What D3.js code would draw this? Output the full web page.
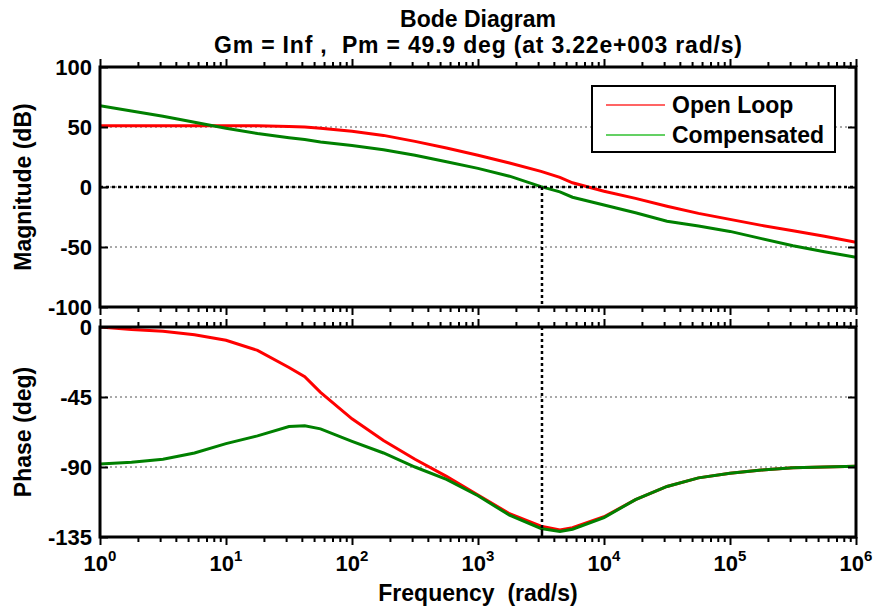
<!DOCTYPE html>
<html>
<head>
<meta charset="utf-8">
<script src="https://cdn.jsdelivr.net/npm/d3@7"></script>
<style>
body { margin: 0; background: #fff; }
text { font-family: "Liberation Sans", Arial, sans-serif; font-weight: bold; fill: #000; white-space: pre; }
</style>
</head>
<body>
<div id="chart"></div>
<script>
// frequency points as powers of ten (rad/s)
var freqExp = [0, 0.25, 0.5, 0.75, 1, 1.25, 1.5, 1.625, 1.75, 2, 2.25, 2.5, 2.75, 3, 3.25, 3.5, 3.65, 3.75, 4, 4.25, 4.5, 4.75, 5, 5.25, 5.5, 5.75, 6];
var magOpen = [51, 51, 51, 51, 51, 51, 50.5, 50, 49, 46.5, 43, 38, 32.5, 26.5, 20, 13, 8, 3.5, -3.5, -9.5, -16, -22, -27, -32, -36.5, -41, -46];
var magComp = [67.8, 63.3, 59, 54, 49, 44.5, 41, 39.5, 37.5, 34.5, 31, 26.5, 21, 15.5, 9, 0.3, -4, -8.5, -15, -21.5, -28.5, -32.5, -37, -43, -49, -54, -58.5];
var phaseOpen = [0, -1.6, -2.7, -5, -8.5, -15, -26, -32, -42, -59, -73, -85, -96, -108, -120, -128, -130.5, -129, -122, -111, -102.5, -97, -94, -92, -90.5, -90, -89.5];
var phaseComp = [-88, -87, -85, -81, -75, -70, -64, -63.5, -65.5, -73.5, -81, -90, -98, -108.5, -121, -129.5, -131.5, -130, -122.5, -111, -102.5, -97, -94, -92, -90.5, -90, -89.5];

var magTicks = [100, 50, 0, -50, -100];
var phaseTicks = [0, -45, -90, -135];
var decadeTicks = [0, 1, 2, 3, 4, 5, 6];
var seriesNames = ["Open Loop", "Compensated"];

var wc = 3220;      // gain crossover (rad/s)
var pm = 49.9;      // phase margin (deg)

var titleLine1 = "Bode Diagram";
var titleLine2 = "Gm = Inf ,  Pm = 49.9 deg (at 3.22e+003 rad/s)";

var red = "#ff0000", green = "#008000";

var width = 875, height = 612;
var left = 100, right = 856;
var magTop = 67, magBottom = 307, phTop = 327, phBottom = 537;

var svg = d3.select("#chart").append("svg")
  .attr("width", width)
  .attr("height", height);
svg.append("rect").attr("width", width).attr("height", height).attr("fill", "#fff");

var freq = freqExp.map(function(e) { return Math.pow(10, e); });

var x = d3.scaleLog().domain([1, 1e6]).range([left, right]);
var yMag = d3.scaleLinear().domain([-100, 100]).range([magBottom, magTop]);
var yPh = d3.scaleLinear().domain([-135, 0]).range([phBottom, phTop]);

// minor ticks 2..9 in every decade
var minorTicks = [];
for (var d = 0; d < 6; d++) {
  for (var k = 2; k < 10; k++) minorTicks.push(k * Math.pow(10, d));
}
var majorTicks = decadeTicks.map(function(e) { return Math.pow(10, e); });

function panel(y, top, bottom, ticks, magData, zeroLine) {
  var g = svg.append("g");

  // horizontal grid (dotted grey)
  g.selectAll(".grid").data(ticks).enter().append("line")
    .attr("x1", left).attr("x2", right)
    .attr("y1", function(t) { return y(t); })
    .attr("y2", function(t) { return y(t); })
    .attr("stroke", "#555").attr("stroke-width", 1)
    .attr("stroke-dasharray", "2,3");

  var clipId = "clip" + top;
  svg.append("clipPath").attr("id", clipId).append("rect")
    .attr("x", left).attr("y", top).attr("width", right - left).attr("height", bottom - top);

  var line = d3.line()
    .x(function(p) { return x(p[0]); })
    .y(function(p) { return y(p[1]); });

  magData.forEach(function(s) {
    g.append("path")
      .attr("clip-path", "url(#" + clipId + ")")
      .attr("d", line(freq.map(function(f, i) { return [f, s.values[i]]; })))
      .attr("fill", "none")
      .attr("stroke", s.color)
      .attr("stroke-width", 3);
  });

  if (zeroLine) {
    g.append("line")
      .attr("x1", left).attr("x2", right)
      .attr("y1", y(0)).attr("y2", y(0))
      .attr("stroke", "#000").attr("stroke-width", 2.5)
      .attr("stroke-dasharray", "3,3");
  }

  // ticks, inward on all four sides
  var axes = [
    [d3.axisBottom(x).tickValues(majorTicks).tickSize(-8), top],
    [d3.axisBottom(x).tickValues(minorTicks).tickSize(-5), top],
    [d3.axisTop(x).tickValues(majorTicks).tickSize(-8), bottom],
    [d3.axisTop(x).tickValues(minorTicks).tickSize(-5), bottom]
  ];
  axes.forEach(function(a) {
    g.append("g").attr("transform", "translate(0," + a[1] + ")")
      .call(a[0].tickFormat(""))
      .call(function(s) { s.select(".domain").remove(); })
      .selectAll("line").attr("stroke", "#000").attr("stroke-width", 2);
  });
  g.append("g").attr("transform", "translate(" + left + ",0)")
    .call(d3.axisRight(y).tickValues(ticks).tickSize(8).tickFormat(""))
    .call(function(s) { s.select(".domain").remove(); })
    .selectAll("line").attr("stroke", "#000").attr("stroke-width", 2);
  g.append("g").attr("transform", "translate(" + right + ",0)")
    .call(d3.axisLeft(y).tickValues(ticks).tickSize(8).tickFormat(""))
    .call(function(s) { s.select(".domain").remove(); })
    .selectAll("line").attr("stroke", "#000").attr("stroke-width", 2);

  // y tick labels
  g.selectAll(".ylab").data(ticks).enter().append("text")
    .attr("x", left - 8)
    .attr("y", function(t) { return y(t); })
    .attr("dy", "0.36em")
    .attr("text-anchor", "end")
    .style("font-size", "22px")
    .text(function(t) { return t; });

  return g;
}

var magPanel = panel(yMag, magTop, magBottom, magTicks,
  [{ values: magOpen, color: red }, { values: magComp, color: green }], true);
var phPanel = panel(yPh, phTop, phBottom, phaseTicks,
  [{ values: phaseOpen, color: red }, { values: phaseComp, color: green }], false);

// crossover frequency marker
svg.append("line")
  .attr("x1", x(wc)).attr("x2", x(wc))
  .attr("y1", yMag(0)).attr("y2", magBottom)
  .attr("stroke", "#000").attr("stroke-width", 2.5).attr("stroke-dasharray", "3,3");
svg.append("line")
  .attr("x1", x(wc)).attr("x2", x(wc))
  .attr("y1", phTop).attr("y2", yPh(-180 + pm))
  .attr("stroke", "#000").attr("stroke-width", 2.5).attr("stroke-dasharray", "3,3");
svg.append("line")
  .attr("x1", x(wc)).attr("x2", x(wc))
  .attr("y1", yPh(-180 + pm)).attr("y2", phBottom)
  .attr("stroke", "#000").attr("stroke-width", 2.5);

// axes boxes
[[magTop, magBottom], [phTop, phBottom]].forEach(function(b) {
  svg.append("rect")
    .attr("x", left).attr("y", b[0])
    .attr("width", right - left).attr("height", b[1] - b[0])
    .attr("fill", "none").attr("stroke", "#000").attr("stroke-width", 3);
});

// x tick labels 10^n
var xlab = svg.selectAll(".xlab").data(decadeTicks).enter().append("text")
  .attr("x", function(e) { return x(Math.pow(10, e)); })
  .attr("y", 571)
  .attr("text-anchor", "middle")
  .style("font-size", "22px");
xlab.append("tspan").text("10");
xlab.append("tspan").attr("dy", -10).style("font-size", "15px").text(function(e) { return e; });

// titles and labels
svg.append("text").attr("x", (left + right) / 2).attr("y", 27)
  .attr("text-anchor", "middle").style("font-size", "23px").text(titleLine1);
svg.append("text").attr("x", (left + right) / 2).attr("y", 53)
  .attr("text-anchor", "middle").style("font-size", "23px")
  .attr("textLength", 528).attr("lengthAdjust", "spacing")
  .text(titleLine2);
svg.append("text").attr("x", (left + right) / 2).attr("y", 601)
  .attr("text-anchor", "middle").style("font-size", "23px")
  .text("Frequency  (rad/s)");
svg.append("text")
  .attr("transform", "translate(31," + (magTop + magBottom) / 2 + ") rotate(-90)")
  .attr("text-anchor", "middle").style("font-size", "23px").text("Magnitude (dB)");
svg.append("text")
  .attr("transform", "translate(31," + (phTop + phBottom) / 2 + ") rotate(-90)")
  .attr("text-anchor", "middle").style("font-size", "23px").text("Phase (deg)");

// legend
var legend = svg.append("g").attr("transform", "translate(592,86)");
legend.append("rect").attr("width", 243).attr("height", 66)
  .attr("fill", "#fff").attr("stroke", "#000").attr("stroke-width", 2);
var legendColors = ["#ff3030", "#30c030"];
seriesNames.forEach(function(name, i) {
  legend.append("line")
    .attr("x1", 14).attr("x2", 73)
    .attr("y1", 19 + i * 30).attr("y2", 19 + i * 30)
    .attr("stroke", legendColors[i]).attr("stroke-width", 1.5);
  legend.append("text")
    .attr("x", 80).attr("y", 19 + i * 30).attr("dy", "0.36em")
    .style("font-size", "23px").text(name);
});
</script>
</body>
</html>
